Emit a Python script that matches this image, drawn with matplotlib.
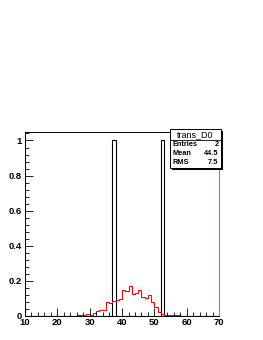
import numpy as np
import matplotlib
matplotlib.use("Agg")
import matplotlib.pyplot as plt
from matplotlib.patches import Rectangle
from matplotlib.ticker import MultipleLocator

# ----------------
# DATA
# ----------------
edges = np.arange(10, 71, 1)

# black histogram: two entries (37 and 52)
black_vals = [0] * 27 + [1] + [0] * 14 + [1] + [0] * 17

# red (normalised) histogram, one value per bin from 10 to 69
red_vals = [
    0, 0, 0, 0, 0, 0, 0, 0, 0, 0,                                   # 10-19
    0, 0, 0, 0, 0, 0, 0.004, 0.004, 0.008, 0.011,                   # 20-29
    0.006, 0.016, 0.028, 0.035, 0.036, 0.077, 0.072, 0.085, 0.092, 0.094,  # 30-39
    0.148, 0.145, 0.172, 0.126, 0.132, 0.150, 0.110, 0.100, 0.118, 0.080,  # 40-49
    0.050, 0.025, 0.012, 0.006, 0.004, 0.008, 0.008, 0.003, 0.002, 0,      # 50-59
    0, 0, 0, 0, 0, 0, 0, 0, 0, 0,                                   # 60-69
]

stats_name = "trans_D0"
stats_rows = [("Entries", "2"), ("Mean", "44.5"), ("RMS", "7.5")]

# ----------------
# PLOT
# ----------------
plt.rcParams["font.family"] = ["Liberation Sans", "DejaVu Sans"]
plt.rcParams["font.weight"] = "bold"

fig = plt.figure(figsize=(2.63, 3.40), dpi=100)
ax = fig.add_axes([0.095, 0.0706, 0.738, 0.542])

ax.stairs(black_vals, edges, color="black", linewidth=0.8)
ax.stairs(red_vals, edges, color="red", linewidth=0.8)

ax.set_xlim(10, 70)
ax.set_ylim(0, 1.05)

ax.xaxis.set_major_locator(MultipleLocator(10))
ax.xaxis.set_minor_locator(MultipleLocator(2))
ax.yaxis.set_major_locator(MultipleLocator(0.2))
ax.yaxis.set_minor_locator(MultipleLocator(0.04))
ax.set_yticks([0, 0.2, 0.4, 0.6, 0.8, 1.0])
ax.set_yticklabels(["0", "0.2", "0.4", "0.6", "0.8", "1"])

ax.tick_params(axis="both", which="both", direction="in", labelsize=6.8,
               width=0.6, top=False, right=False)
ax.tick_params(axis="x", which="major", length=5.5, pad=1.5)
ax.tick_params(axis="x", which="minor", length=2.8)
ax.tick_params(axis="y", which="major", length=5.5, pad=2.5)
ax.tick_params(axis="y", which="minor", length=2.8)

for side in ["left", "bottom", "top"]:
    ax.spines[side].set_linewidth(0.7)
ax.spines["right"].set_color("#d86a6a")
ax.spines["right"].set_linewidth(0.8)

# stats box
bx0, bx1 = 170 / 263, 221 / 263
by1, by0 = 1 - 129 / 340, 1 - 168 / 340
fig.patches.append(Rectangle((bx0 + 0.006, by0 - 0.005), bx1 - bx0, by1 - by0,
                             transform=fig.transFigure, facecolor="black",
                             edgecolor="none", zorder=5))
fig.patches.append(Rectangle((bx0, by0), bx1 - bx0, by1 - by0,
                             transform=fig.transFigure, facecolor="white",
                             edgecolor="black", linewidth=0.7, zorder=6))
row_h = (by1 - by0) / 4.2
title_y = by1 - row_h * 0.6
fig.lines.append(plt.Line2D([bx0, bx1], [by1 - row_h * 1.15] * 2,
                            transform=fig.transFigure, color="black",
                            linewidth=0.6, zorder=7))
fig.text((bx0 + bx1) / 2, title_y, stats_name, ha="center", va="center",
         fontsize=6.5, fontweight="normal", zorder=8)
for i, (name, val) in enumerate(stats_rows):
    yy = by1 - row_h * (1.7 + i * 0.98)
    fig.text(bx0 + 0.01, yy, name, ha="left", va="center", fontsize=5.3, zorder=8)
    fig.text(bx1 - 0.01, yy, val, ha="right", va="center", fontsize=5.3, zorder=8)

fig.savefig("out.png", dpi=100)
